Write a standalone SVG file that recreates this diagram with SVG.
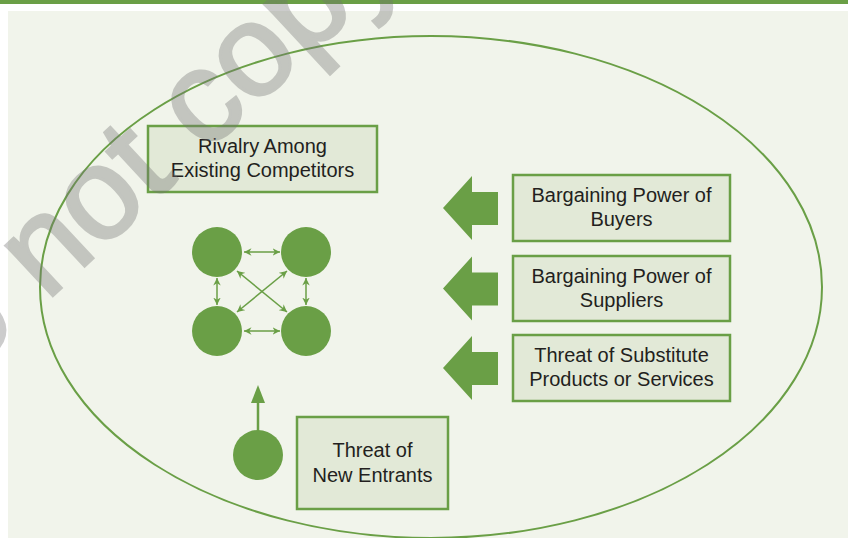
<svg xmlns="http://www.w3.org/2000/svg" width="848" height="538" viewBox="0 0 848 538">
<style>
.box{fill:#e2e9d7;stroke:#6a9f46;stroke-width:2.5}
.lbl{font-family:"Liberation Sans",Arial,sans-serif;font-size:20px;fill:#231f20;text-anchor:middle}
.dot{fill:#6a9f46}
.link{stroke:#6a9f46;stroke-width:1.5;fill:none;marker-start:url(#ah);marker-end:url(#ah)}
.wm{font-family:"Liberation Sans",Arial,sans-serif;font-size:130px;fill:#737373;stroke:#737373;stroke-width:3;opacity:0.36}
</style>
<defs>
<marker id="ah" viewBox="0 0 10 10" refX="10" refY="5" markerWidth="5" markerHeight="5" orient="auto-start-reverse" markerUnits="strokeWidth">
<path d="M0,0 L10,5 L0,10 L3,5 Z" fill="#6a9f46"/>
</marker>
<path id="bigArrow" d="M0,0 L29,-32 L29,-16 L55,-16 L55,17 L29,17 L29,32 Z" fill="#6a9f46"/>
</defs>
<rect x="0" y="0" width="848" height="538" fill="#ffffff"/>
<rect x="0" y="0" width="848" height="4" fill="#6a9f46"/>
<rect x="8" y="11" width="840" height="527" fill="#f1f4eb"/>
<ellipse cx="431" cy="287" rx="391" ry="251" fill="none" stroke="#6a9f46" stroke-width="2"/>

<g id="connectors">
<line class="link" x1="244" y1="252" x2="280" y2="252"/>
<line class="link" x1="244" y1="331" x2="280" y2="331"/>
<line class="link" x1="217" y1="278" x2="217" y2="305"/>
<line class="link" x1="306" y1="278" x2="306" y2="305"/>
<line class="link" x1="237" y1="271" x2="287" y2="312"/>
<line class="link" x1="287" y1="271" x2="237" y2="312"/>
<line x1="258" y1="431" x2="258" y2="398" stroke="#6a9f46" stroke-width="2.5"/>
<polygon points="258,385 251,403 265,403" fill="#6a9f46"/>
<use href="#bigArrow" x="443" y="208"/>
<use href="#bigArrow" x="443" y="288.5"/>
<use href="#bigArrow" x="443" y="368"/>
</g>

<g id="rivalry">
<rect class="box" x="148" y="126" width="229" height="66"/>
<text class="lbl" x="262.5" y="153">Rivalry Among</text>
<text class="lbl" x="262.5" y="177">Existing Competitors</text>
</g>
<g id="competitors">
<circle class="dot" cx="217" cy="252" r="25"/>
<circle class="dot" cx="306" cy="252" r="25"/>
<circle class="dot" cx="217" cy="331" r="25"/>
<circle class="dot" cx="306" cy="331" r="25"/>
</g>
<g id="buyers">
<rect class="box" x="513" y="175" width="217" height="66"/>
<text class="lbl" x="621.5" y="202">Bargaining Power of</text>
<text class="lbl" x="621.5" y="226">Buyers</text>
</g>
<g id="suppliers">
<rect class="box" x="513" y="256" width="217" height="65"/>
<text class="lbl" x="621.5" y="283">Bargaining Power of</text>
<text class="lbl" x="621.5" y="306.5">Suppliers</text>
</g>
<g id="substitutes">
<rect class="box" x="513" y="335" width="217" height="66"/>
<text class="lbl" x="621.5" y="362">Threat of Substitute</text>
<text class="lbl" x="621.5" y="385.5">Products or Services</text>
</g>
<g id="entrant">
<circle class="dot" cx="258" cy="455" r="25"/>
</g>
<g id="newEntrants">
<rect class="box" x="297" y="417" width="151" height="92"/>
<text class="lbl" x="372.5" y="457">Threat of</text>
<text class="lbl" x="372.5" y="481.5">New Entrants</text>
</g>
<text class="wm" transform="translate(46,302) rotate(-43)" x="-202" y="0">Do not copy</text>
</svg>
